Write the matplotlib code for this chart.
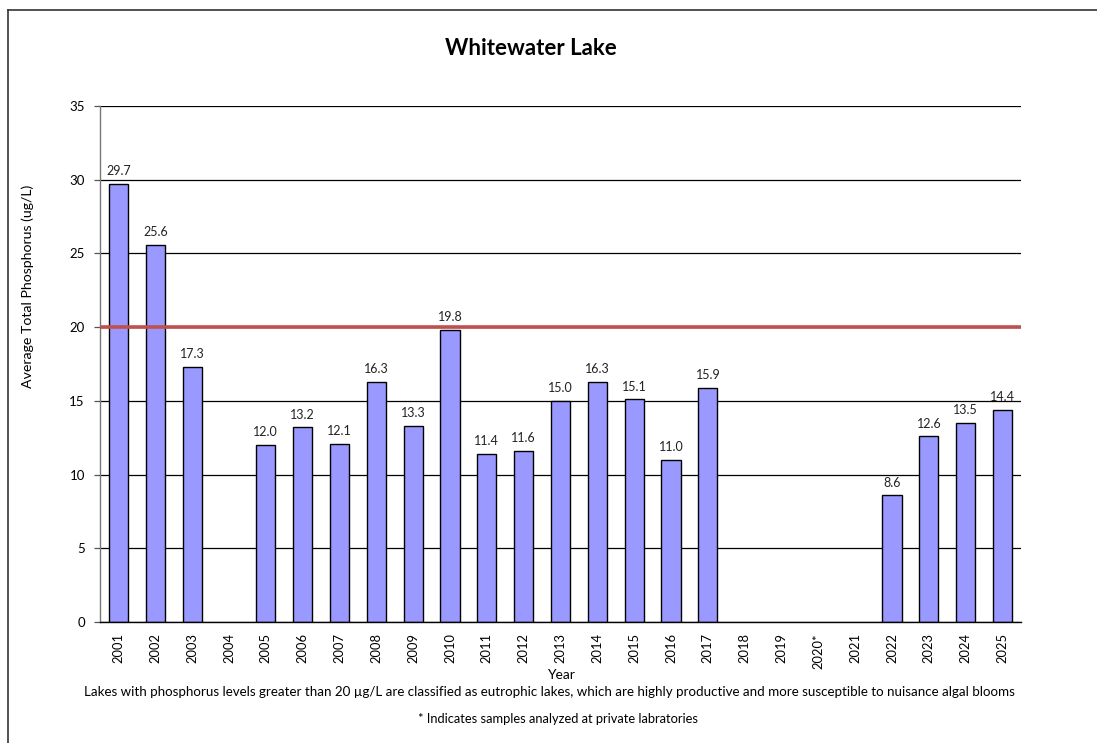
#!/usr/bin/env python3
"""
Whitewater Lake - average total phosphorus by year
"""

import numpy as np
import matplotlib.pyplot as plt
from matplotlib.lines import Line2D

plt.rcParams['font.family'] = ['Lato', 'DejaVu Sans']
plt.rcParams['font.size'] = 9

years = ['2001', '2002', '2003', '2004', '2005', '2006', '2007', '2008', '2009',
         '2010', '2011', '2012', '2013', '2014', '2015', '2016', '2017', '2018',
         '2019', '2020*', '2021', '2022', '2023', '2024', '2025']
phosphorus = [29.7, 25.6, 17.3, None, 12.0, 13.2, 12.1, 16.3, 13.3,
              19.8, 11.4, 11.6, 15.0, 16.3, 15.1, 11.0, 15.9, None,
              None, None, None, 8.6, 12.6, 13.5, 14.4]
eutrophic_limit = 20
y_ticks = [0, 5, 10, 15, 20, 25, 30, 35]

BAR_COLOR = '#9999ff'
LIMIT_COLOR = '#c0504d'

fig = plt.figure(figsize=(10.97, 7.43), dpi=100)
ax = fig.add_axes([0.0912, 0.1629, 0.8395, 0.6945])

x = np.arange(len(years))
# only years with samples get a bar
bx = [xi for xi, v in zip(x, phosphorus) if v is not None]
bv = [v for v in phosphorus if v is not None]

ax.bar(bx, bv, width=0.52, color=BAR_COLOR, edgecolor='black',
       linewidth=1.0, zorder=2)

for xi, v in zip(bx, bv):
    ax.text(xi, v + 0.45, f'{v:.1f}', ha='center', va='bottom',
            fontsize=9, color='#222222')

ax.axhline(eutrophic_limit, color=LIMIT_COLOR, linewidth=2.6, zorder=3)

ax.set_xlim(-0.5, len(years) - 0.5)
ax.set_ylim(0, 35)
ax.set_yticks(y_ticks)
ax.yaxis.grid(True, color='black', linewidth=0.9, zorder=0)
ax.set_axisbelow(True)

ax.set_xticks(x)
ax.set_xticklabels(years, rotation=90, fontsize=9.3)
ax.tick_params(axis='x', length=0, pad=8)
ax.tick_params(axis='y', length=4, width=0.9, color='#555555', labelsize=9.5, pad=7)

for s in ['top', 'right']:
    ax.spines[s].set_visible(False)
ax.spines['left'].set_color('#777777')
ax.spines['left'].set_linewidth(1.0)
ax.spines['bottom'].set_color('black')
ax.spines['bottom'].set_linewidth(1.0)

ax.set_xlabel('Year', fontsize=10, labelpad=0.5)
fig.text(0.0255, 0.615, 'Average Total Phosphorus (ug/L)', rotation=90,
         ha='center', va='center', fontsize=10.2)

fig.text(0.484, 0.935, 'Whitewater Lake', ha='center', va='center',
         fontsize=16, fontweight='bold')
fig.text(0.501, 0.068,
         'Lakes with phosphorus levels greater than 20 \u00b5g/L are classified as eutrophic lakes, '
         'which are highly productive and more susceptible to nuisance algal blooms',
         ha='center', va='center', fontsize=9.6)
fig.text(0.509, 0.032, '* Indicates samples analyzed at private labratories',
         ha='center', va='center', fontsize=9.3)

# outer frame (left and top edges visible in the crop)
fig.add_artist(Line2D([0.0075, 0.0075], [0, 0.987], color='#333333', linewidth=1.2))
fig.add_artist(Line2D([0.0075, 1.0], [0.987, 0.987], color='#333333', linewidth=1.2))

fig.savefig('out.png', dpi=100, facecolor='white')
plt.close(fig)
